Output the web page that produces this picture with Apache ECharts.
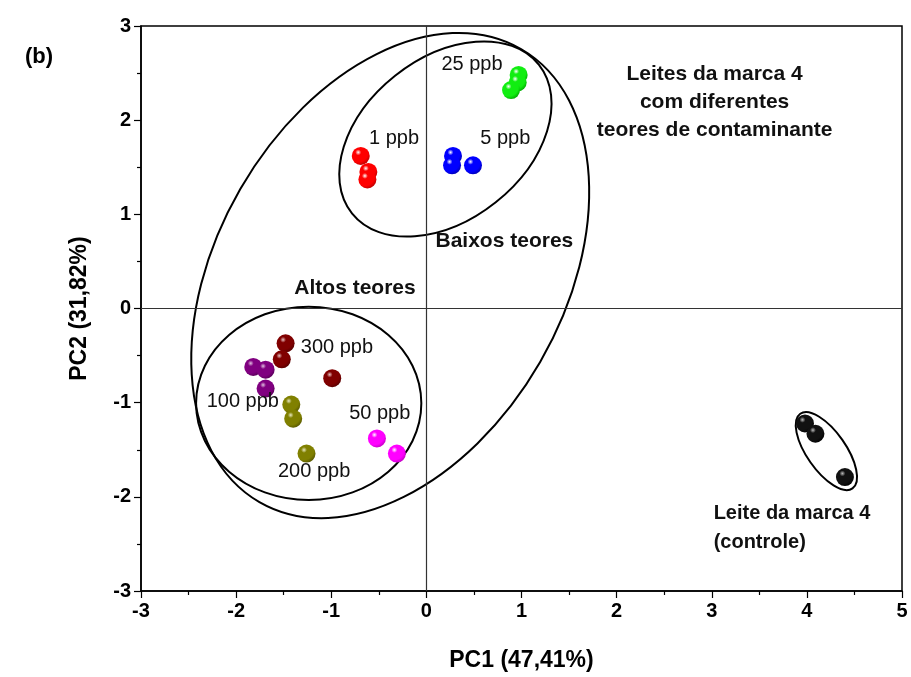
<!DOCTYPE html>
<html>
<head>
<meta charset="utf-8">
<script src="https://cdn.jsdelivr.net/npm/echarts@6/dist/echarts.min.js"></script>
<style>
  html, body { margin: 0; padding: 0; background: #fff; }
  #chart { width: 911px; height: 677px; }
</style>
</head>
<body>
<div id="chart"></div>
<script>
// PCA scores (PC1, PC2) per contaminant level
const ppb1   = [[-0.69, 1.62], [-0.61, 1.45], [-0.62, 1.37]];
const ppb5   = [[0.28, 1.62], [0.27, 1.52], [0.49, 1.52]];
const ppb25  = [[0.97, 2.48], [0.96, 2.40], [0.89, 2.32]];
const ppb50  = [[-0.52, -1.38], [-0.31, -1.54]];
const ppb100 = [[-1.82, -0.62], [-1.69, -0.65], [-1.69, -0.85]];
const ppb200 = [[-1.42, -1.02], [-1.40, -1.17], [-1.26, -1.54]];
const ppb300 = [[-1.48, -0.37], [-1.52, -0.54], [-0.99, -0.74]];
const controle = [[3.98, -1.22], [4.09, -1.33], [4.40, -1.79]];

// grouping ellipses: centre x, centre y, semi-major, semi-minor (PC1 units), angle (deg)
const ellipses = [
  [-0.38, 0.35, 2.75, 1.82, 60],
  [0.20, 1.80, 1.255, 0.85, 38.5],
  [-1.237, -1.007, 1.184, 1.016, 0],
  [4.205, -1.514, 0.479, 0.205, -55]
];

// axis ranges
const xTicks = { min: -3, max: 5, step: 1 };
const yTicks = { min: -3, max: 3, step: 1 };

// text annotations: [text, x, y]
const levelNotes = [
  ['25 ppb', 0.48, 2.59],
  ['1 ppb', -0.34, 1.81],
  ['5 ppb', 0.83, 1.81],
  ['300 ppb', -0.94, -0.41],
  ['100 ppb', -1.93, -0.99],
  ['50 ppb', -0.49, -1.12],
  ['200 ppb', -1.18, -1.73]
];
const groupNotes = [
  ['Leites da marca 4\ncom diferentes\nteores de contaminante', 3.03, 2.19],
  ['Baixos teores', 0.82, 0.71],
  ['Altos teores', -0.75, 0.22]
];
const controlNote = [['Leite da marca 4\n(controle)', 3.02, -2.33]];

const FONT = "'Liberation Sans', Arial, sans-serif";

function sphere(base, edge, shine) {
  return {
    type: 'radial', x: 0.36, y: 0.3, r: 0.75,
    colorStops: [
      { offset: 0, color: shine || '#ffffff' },
      { offset: 0.22, color: base },
      { offset: 0.72, color: base },
      { offset: 1, color: edge }
    ]
  };
}

function balls(name, data, base, edge, shine) {
  return {
    name: name, type: 'scatter', data: data, symbol: 'circle', symbolSize: 18,
    itemStyle: { color: sphere(base, edge, shine), opacity: 1 }, z: 5
  };
}

function notes(data, opts) {
  return {
    type: 'scatter', symbolSize: 0, silent: true, z: 6,
    itemStyle: { opacity: 1 },
    data: data.map(d => ({ name: d[0], value: [d[1], d[2]] })),
    label: Object.assign({
      show: true, position: 'inside', formatter: p => p.name,
      color: '#111', fontFamily: FONT
    }, opts)
  };
}

const chart = echarts.init(document.getElementById('chart'));
chart.setOption({
  animation: false,
  backgroundColor: '#fff',
  grid: { left: 141, right: 9, top: 26, bottom: 86, show: true, borderColor: '#000', borderWidth: 1.5 },
  title: {
    text: '(b)', left: 20, top: 41,
    textStyle: { fontSize: 22, fontWeight: 'bold', fontFamily: FONT, color: '#000' }
  },
  xAxis: {
    type: 'value', min: xTicks.min, max: xTicks.max, interval: xTicks.step,
    name: 'PC1 (47,41%)', nameLocation: 'middle', nameGap: 58,
    nameTextStyle: { fontSize: 23, fontWeight: 'bold', fontFamily: FONT, color: '#000' },
    axisLine: { onZero: false, lineStyle: { color: '#000', width: 1.5 } },
    axisTick: { show: true, inside: false, length: 7, lineStyle: { color: '#000', width: 1.2 } },
    minorTick: { show: true, splitNumber: 2, length: 4, lineStyle: { color: '#000', width: 1.2 } },
    axisLabel: { fontSize: 20, fontWeight: 'bold', fontFamily: FONT, color: '#000', margin: 10 },
    splitLine: { show: false }
  },
  yAxis: {
    type: 'value', min: yTicks.min, max: yTicks.max, interval: yTicks.step,
    name: 'PC2 (31,82%)', nameLocation: 'middle', nameGap: 50, nameRotate: 90,
    nameTextStyle: { fontSize: 23, fontWeight: 'bold', fontFamily: FONT, color: '#000' },
    axisLine: { onZero: false, lineStyle: { color: '#000', width: 1.5 } },
    axisTick: { show: true, inside: false, length: 7, lineStyle: { color: '#000', width: 1.2 } },
    minorTick: { show: true, splitNumber: 2, length: 4, lineStyle: { color: '#000', width: 1.2 } },
    axisLabel: { fontSize: 20, fontWeight: 'bold', fontFamily: FONT, color: '#000', margin: 10 },
    splitLine: { show: false }
  },
  series: [
    {
      // origin cross lines and grouping ellipses
      type: 'custom', silent: true, z: 3,
      data: ellipses,
      encode: { x: 0, y: 1 },
      renderItem: function (params, api) {
        const c = api.coord([api.value(0), api.value(1)]);
        const s = api.size([1, 1]);
        return {
          type: 'ellipse',
          x: c[0], y: c[1],
          rotation: api.value(4) * Math.PI / 180,
          shape: { cx: 0, cy: 0, rx: api.value(2) * s[0], ry: api.value(3) * s[0] },
          style: { fill: 'none', stroke: '#000', lineWidth: 2 }
        };
      },
      markLine: {
        silent: true, symbol: 'none', label: { show: false },
        lineStyle: { color: '#333', width: 1.2, type: 'solid' },
        data: [{ xAxis: 0 }, { yAxis: 0 }]
      }
    },
    balls('1 ppb', ppb1, '#ff0000', '#b80000'),
    balls('5 ppb', ppb5, '#0000ff', '#0000b0'),
    balls('25 ppb', ppb25, '#11ee11', '#00a800'),
    balls('50 ppb', ppb50, '#ff00ff', '#c000c0'),
    balls('100 ppb', ppb100, '#800080', '#560056', '#e0c0e0'),
    balls('200 ppb', ppb200, '#808000', '#565600', '#e8e8c0'),
    balls('300 ppb', ppb300, '#800000', '#560000', '#e8c0c0'),
    balls('controle', controle, '#111111', '#000000', '#bbbbbb'),
    notes(levelNotes, { fontSize: 20, fontWeight: 'normal' }),
    notes(groupNotes, { fontSize: 21, fontWeight: 'bold', lineHeight: 28, align: 'center' }),
    notes(controlNote, { fontSize: 20, fontWeight: 'bold', lineHeight: 29, position: 'right', distance: 0, align: 'left' })
  ]
});
</script>
</body>
</html>
